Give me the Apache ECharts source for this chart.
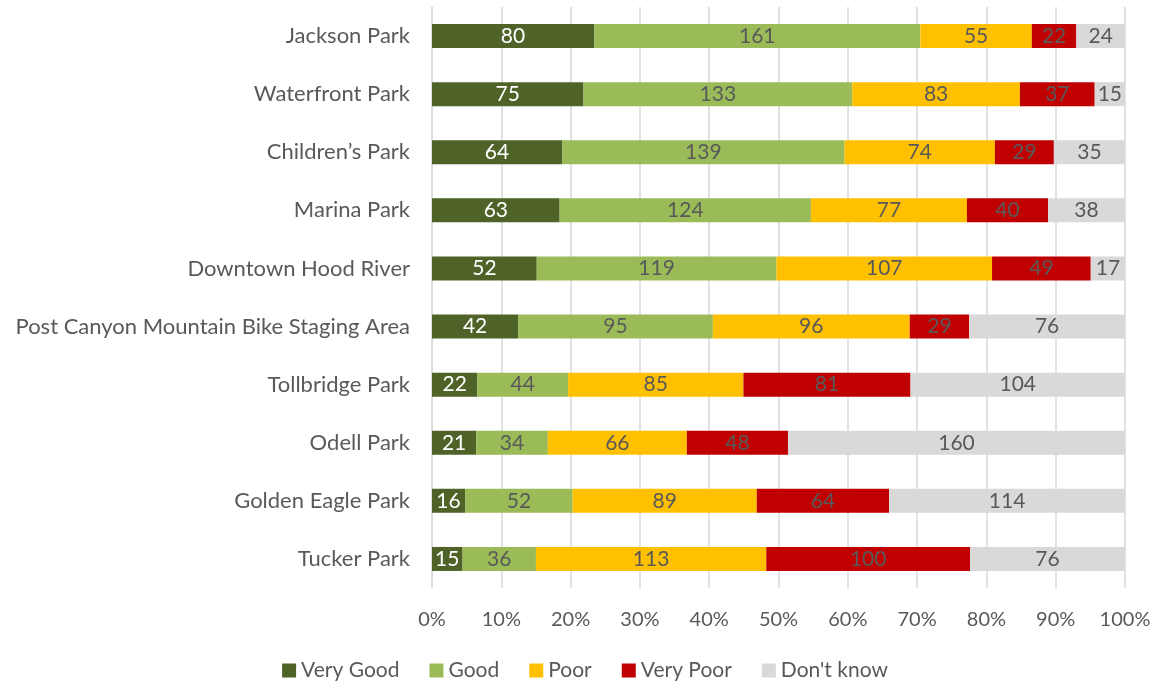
<!DOCTYPE html>
<html>
<head>
<meta charset="utf-8">
<script src="https://cdn.jsdelivr.net/npm/echarts@6/dist/echarts.min.js"></script>
<style>
    html, body { margin: 0; padding: 0; background: #fff; }
    #chart { width: 1170px; height: 686px; }
</style>
</head>
<body>
<div id="chart"></div>
<script>
var parks = ['Jackson Park', 'Waterfront Park', 'Children\u2019s Park', 'Marina Park', 'Downtown Hood River',
    'Post Canyon Mountain Bike Staging Area', 'Tollbridge Park', 'Odell Park', 'Golden Eagle Park', 'Tucker Park'];
var veryGood = [80, 75, 64, 63, 52, 42, 22, 21, 16, 15];
var good = [161, 133, 139, 124, 119, 95, 44, 34, 52, 36];
var poor = [55, 83, 74, 77, 107, 96, 85, 66, 89, 113];
var veryPoor = [22, 37, 29, 40, 49, 29, 81, 48, 64, 100];
var dontKnow = [24, 15, 35, 38, 17, 76, 104, 160, 114, 76];
var seriesNames = ['Very Good', 'Good', 'Poor', 'Very Poor', "Don't know"];
var colors = ['#4F6228', '#9BBB59', '#FFC000', '#C00000', '#D9D9D9'];

var groups = [veryGood, good, poor, veryPoor, dontKnow];
var totals = parks.map(function (p, i) {
    return groups.reduce(function (s, g) { return s + g[i]; }, 0);
});

var font = 'Lato, "Liberation Sans", sans-serif';

var series = groups.map(function (g, k) {
    return {
        name: seriesNames[k],
        type: 'bar',
        stack: 'all',
        barWidth: 24,
        itemStyle: { color: colors[k] },
        label: {
            show: true,
            position: 'inside',
            color: k === 0 ? '#ffffff' : '#595959',
            fontFamily: font,
            fontSize: 21,
            formatter: function (p) { return g[p.dataIndex]; }
        },
        data: g.map(function (v, i) { return v / totals[i]; })
    };
});

var myChart = echarts.init(document.getElementById('chart'));
myChart.setOption({
    animation: false,
    textStyle: { fontFamily: font },
    grid: { left: 432, right: 45, top: 7, bottom: 98 },
    legend: {
        bottom: 0,
        left: 'center',
        icon: 'rect',
        itemWidth: 14,
        itemHeight: 14,
        itemGap: 30,
        textStyle: { color: '#595959', fontSize: 21, fontFamily: font },
        data: seriesNames
    },
    xAxis: {
        type: 'value',
        min: 0,
        max: 1,
        interval: 0.1,
        axisLine: { show: false },
        axisTick: { show: false },
        splitLine: { show: true, lineStyle: { color: '#D9D9D9', width: 1.5 } },
        axisLabel: {
            color: '#595959',
            fontSize: 20,
            margin: 22,
            formatter: function (v) { return Math.round(v * 100) + '%'; }
        }
    },
    yAxis: {
        type: 'category',
        inverse: true,
        data: parks,
        axisLine: { show: true, lineStyle: { color: '#D9D9D9', width: 1.5 } },
        axisTick: { show: false },
        axisLabel: { color: '#595959', fontSize: 22, margin: 22 }
    },
    series: series
});
</script>
</body>
</html>
